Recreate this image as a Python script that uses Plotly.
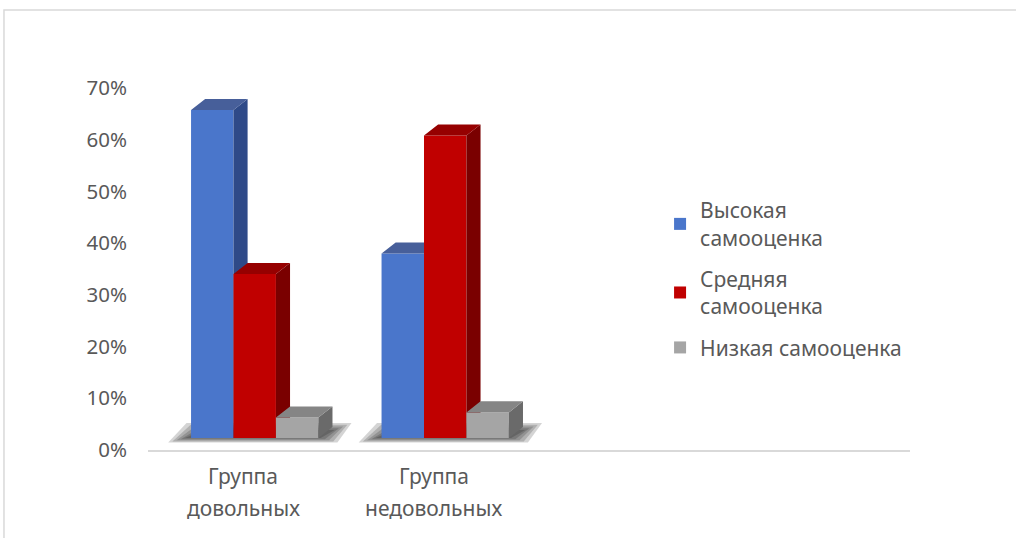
import plotly.graph_objects as go

categories = ["Группа довольных", "Группа недовольных"]
cat_lines = [["Группа", "довольных"], ["Группа", "недовольных"]]
series_names = ["Высокая<br>самооценка", "Средняя<br>самооценка", "Низкая самооценка"]
high_vals = [64, 36]
mid_vals = [32, 59]
low_vals = [4, 5]
tick_vals = [0, 10, 20, 30, 40, 50, 60, 70]
tick_text = ["0%", "10%", "20%", "30%", "40%", "50%", "60%", "70%"]

series_vals = [high_vals, mid_vals, low_vals]
front_cols = ["#4a76cb", "#c00000", "#a5a5a5"]
side_cols = ["#2f4a88", "#7a0000", "#6a6a6a"]
top_cols = ["#475f9a", "#960000", "#858585"]

# geometry (axis units)
bar_w = 0.2228
first_off = -0.274
dx = 0.074
dy = 2.15

fig = go.Figure()
xs = list(range(len(categories)))

for i, vals in enumerate(series_vals):
    yname = "y" + str(i + 2)
    off = first_off + i * bar_w
    fig.add_trace(go.Bar(
        x=xs, y=vals, name=series_names[i], width=bar_w, offset=off,
        marker=dict(color=front_cols[i], line=dict(width=0)),
        yaxis=yname, legendgroup=str(i),
    ))
    sx, sy, tx, ty = [], [], [], []
    for j, v in enumerate(vals):
        xl = xs[j] + off
        xr = xl + bar_w
        sx += [xr, xr, xr + dx, xr + dx, xr, None]
        sy += [0, v, v + dy, dy, 0, None]
        tx += [xl, xr, xr + dx, xl + dx, xl, None]
        ty += [v, v, v + dy, v + dy, v, None]
    fig.add_trace(go.Scatter(x=sx, y=sy, mode="lines", fill="toself",
                             fillcolor=side_cols[i], line=dict(width=0),
                             yaxis=yname, showlegend=False, hoverinfo="skip"))
    fig.add_trace(go.Scatter(x=tx, y=ty, mode="lines", fill="toself",
                             fillcolor=top_cols[i], line=dict(width=0),
                             yaxis=yname, showlegend=False, hoverinfo="skip"))

# invisible trace to own the visible percentage axis
fig.add_trace(go.Scatter(x=[0], y=[0], yaxis="y", mode="markers",
                         marker=dict(opacity=0), showlegend=False, hoverinfo="skip"))

# soft floor shadows under each group (layered to fake a blur)
shapes = []
for j in xs:
    gl = xs[j] + first_off
    gr = gl + 3 * bar_w
    for k in range(5):
        ins = 0.022 * k
        yb = -0.9 + 0.22 * k
        yt = dy + 0.8 - 0.35 * k
        path = (f"M {gl - 0.12 + ins},{yb} L {gr + 0.1 - ins},{yb} "
                f"L {gr + 0.1 - ins + dx},{yt} L {gl - 0.12 + ins + dx * 1.3},{yt} Z")
        shapes.append(dict(type="path", xref="x", yref="y2", path=path,
                           fillcolor="rgba(0,0,0,0.17)", line=dict(width=0),
                           layer="below"))

txt = "#595959"
font = "Noto Sans"
fs = 21
bar_axis = dict(overlaying="y", range=[-2.34, 68.29], visible=False, showgrid=False)

fig.update_layout(
    width=1016, height=538,
    margin=dict(l=148, r=106, t=88, b=88),
    paper_bgcolor="white", plot_bgcolor="white",
    font=dict(family=font, size=fs, color=txt),
    barmode="overlay",
    xaxis=dict(range=[-0.5, 3.5], showticklabels=False, showgrid=False,
               zeroline=False, showline=True, linecolor="#d9d9d9", linewidth=2,
               ticks=""),
    yaxis=dict(type="linear", range=[0, 70], tickvals=tick_vals, ticktext=tick_text,
               showgrid=False, zeroline=False, showline=False,
               ticklabelstandoff=20, tickfont=dict(size=20.5, color=txt)),
    yaxis2=bar_axis, yaxis3=bar_axis, yaxis4=bar_axis,
    legend=dict(x=0.672, y=0.718, xanchor="left", yanchor="top",
                font=dict(size=fs, color=txt), tracegroupgap=11,
                bgcolor="rgba(0,0,0,0)"),
    showlegend=True,
)

annotations = []
for j, lines in enumerate(cat_lines):
    for k, line in enumerate(lines):
        annotations.append(dict(x=xs[j], y=-0.072 - 0.088 * k, xref="x", yref="paper",
                                text=line, showarrow=False, xanchor="center",
                                yanchor="middle", font=dict(size=fs, color=txt)))
fig.update_layout(annotations=annotations)

shapes.append(dict(type="rect", xref="paper", yref="paper", x0=-0.189, y0=-0.4,
                   x1=1.3, y1=1.2155, line=dict(color="#d9d9d9", width=1.5),
                   fillcolor="rgba(0,0,0,0)", layer="below"))
fig.update_layout(shapes=shapes)

fig.write_html("out.html", config={"displayModeBar": False},
               post_script="document.body.style.margin='0';")
